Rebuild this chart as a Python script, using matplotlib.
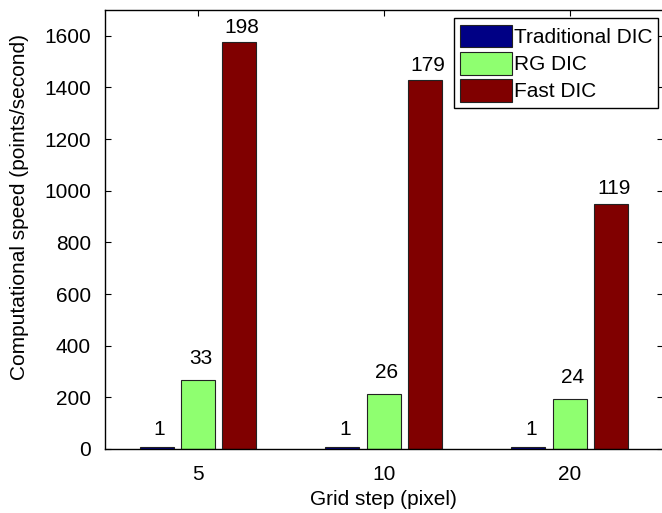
import matplotlib
matplotlib.use("Agg")
import matplotlib.pyplot as plt
import numpy as np

# ---- data ----
grid_steps = ["5", "10", "20"]
series_names = ["Traditional DIC", "RG DIC", "Fast DIC"]
traditional_speed = [8, 8, 8]
rg_speed = [266, 212, 192]
fast_speed = [1575, 1427, 950]
traditional_ratio = ["1", "1", "1"]
rg_ratio = ["33", "26", "24"]
fast_ratio = ["198", "179", "119"]
y_ticks = [0, 200, 400, 600, 800, 1000, 1200, 1400, 1600]

plt.rcParams['font.family'] = ['Liberation Sans', 'DejaVu Sans']
FS = 15

W, H = 662, 513
fig = plt.figure(figsize=(W / 100, H / 100), dpi=100)
ax = fig.add_axes([105 / W, (H - 449) / H, 557.5 / W, 439 / H])

colors = ["#000085", "#8FFF70", "#800000"]
series = [traditional_speed, rg_speed, fast_speed]
ratios = [traditional_ratio, rg_ratio, fast_ratio]
label_gap = [6, 9, 4]  # points above bar

x = np.arange(1, len(grid_steps) + 1)
offsets = [-0.222, 0.0, 0.222]
width = 0.183
for vals, lab, col, off, rat, gap in zip(series, series_names, colors, offsets, ratios, label_gap):
    bars = ax.bar(x + off, vals, width, color=col, edgecolor="#222222",
                  linewidth=0.8, label=lab, zorder=2)
    for b, r in zip(bars, rat):
        ax.annotate(r, (b.get_x() + b.get_width() / 2, b.get_height()),
                    xytext=(2, gap), textcoords="offset points",
                    ha="center", va="bottom", fontsize=FS)

ax.set_xlim(0.5, 3.5)
ax.set_ylim(0, 1700)
ax.set_xticks(x)
ax.set_xticklabels(grid_steps)
ax.set_yticks(y_ticks)

ax.tick_params(axis="both", direction="in", length=4, width=0.8,
               top=True, right=True, labelsize=FS, color="black")
ax.tick_params(axis="x", pad=11.5)
ax.tick_params(axis="y", pad=10)
for s in ax.spines.values():
    s.set_linewidth(1.0)
    s.set_color("black")

ax.set_xlabel("Grid step (pixel)", fontsize=FS, va="baseline")
ax.xaxis.set_label_coords(0.5, -56 / 439)
ax.set_ylabel("Computational speed (points/second)", fontsize=FS, va="center")
ax.yaxis.set_label_coords(-86 / 557.5, (449 - 207.5) / 439)

leg = ax.legend(loc="upper right", bbox_to_anchor=(553.3 / 557.5, 1 - 8.3 / 439),
                borderaxespad=0, fontsize=FS, fancybox=False, frameon=True,
                edgecolor="black", framealpha=1, handlelength=2.5,
                handleheight=1.3, handletextpad=0.08, labelspacing=0.22,
                borderpad=0.3)
leg.get_frame().set_linewidth(1.0)

fig.savefig("out.png", dpi=100)
